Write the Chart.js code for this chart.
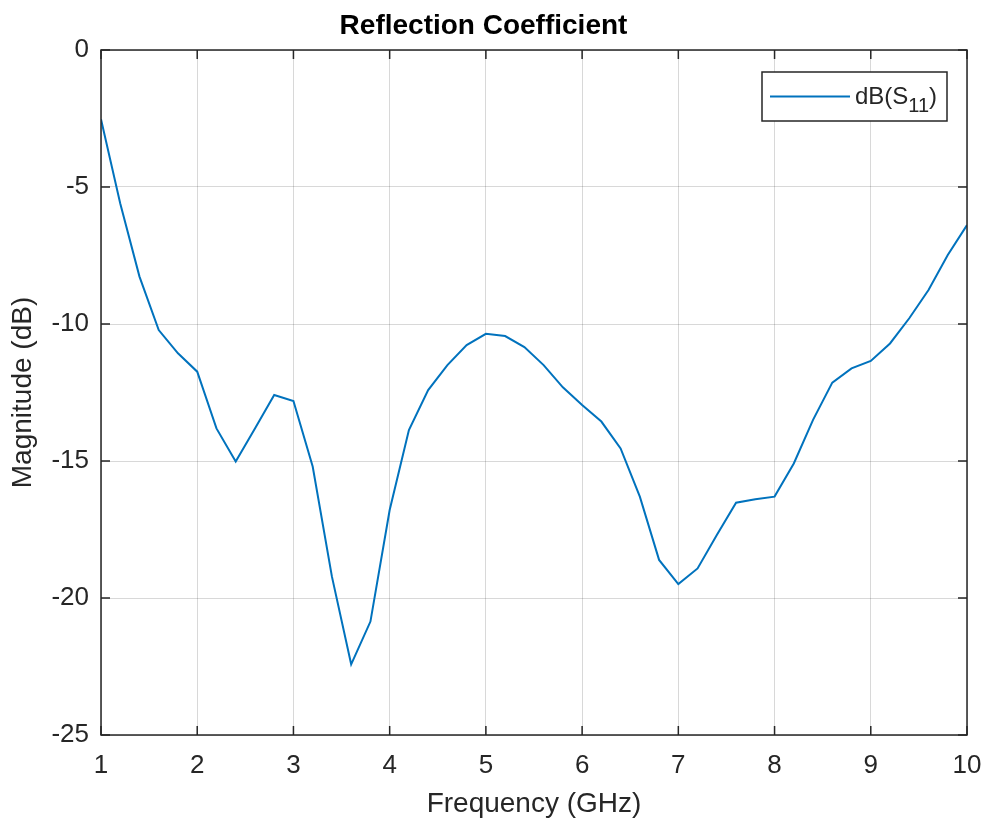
<!DOCTYPE html>
<html>
<head>
<meta charset="utf-8">
<title>Reflection Coefficient</title>
<script src="https://cdn.jsdelivr.net/npm/chart.js@4.4.1/dist/chart.umd.min.js"></script>
<style>
  html, body { margin: 0; padding: 0; background: #fff; }
  canvas { display: block; }
</style>
</head>
<body>
<canvas id="chart-s11" width="987" height="821"></canvas>
<script>
// Datos (paso de 0.2 GHz)
const freqGHz = [1.0, 1.2, 1.4, 1.6, 1.8, 2.0, 2.2, 2.4, 2.6, 2.8,
                 3.0, 3.2, 3.4, 3.6, 3.8, 4.0, 4.2, 4.4, 4.6, 4.8,
                 5.0, 5.2, 5.4, 5.6, 5.8, 6.0, 6.2, 6.4, 6.6, 6.8,
                 7.0, 7.2, 7.4, 7.6, 7.8, 8.0, 8.2, 8.4, 8.6, 8.8,
                 9.0, 9.2, 9.4, 9.6, 9.8, 10.0];
const s11dB = [-2.53, -5.60, -8.27, -10.22, -11.07, -11.74, -13.81, -15.02, -13.81, -12.59,
               -12.81, -15.20, -19.22, -22.42, -20.86, -16.79, -13.87, -12.41, -11.50, -10.77,
               -10.36, -10.44, -10.84, -11.50, -12.31, -12.96, -13.56, -14.54, -16.30, -18.61,
               -19.49, -18.92, -17.70, -16.52, -16.40, -16.30, -15.09, -13.50, -12.14, -11.62,
               -11.35, -10.71, -9.79, -8.76, -7.48, -6.39];
const xTicks = [1, 2, 3, 4, 5, 6, 7, 8, 9, 10];
const yTicks = [-25, -20, -15, -10, -5, 0];

const COLORS = {
    line:  '#0072BD',
    axis:  '#262626',
    grid:  'rgba(38,38,38,0.18)',
};
const FONT = "'Liberation Sans', Arial, Helvetica, sans-serif";

// Caja de ejes estilo MATLAB, con marcas hacia dentro en los cuatro lados
const boxPlugin = {
    id: 'matlabBox',
    afterDatasetsDraw(chart) {
        const { ctx, chartArea: a, scales: { x, y } } = chart;
        const len = 9;
        ctx.save();
        ctx.strokeStyle = COLORS.axis;
        ctx.lineWidth = 1.5;
        ctx.beginPath();
        xTicks.forEach(v => {
            const px = x.getPixelForValue(v);
            ctx.moveTo(px, a.bottom); ctx.lineTo(px, a.bottom - len);
            ctx.moveTo(px, a.top);    ctx.lineTo(px, a.top + len);
        });
        yTicks.forEach(v => {
            const py = y.getPixelForValue(v);
            ctx.moveTo(a.left, py);  ctx.lineTo(a.left + len, py);
            ctx.moveTo(a.right, py); ctx.lineTo(a.right - len, py);
        });
        ctx.stroke();
        ctx.strokeRect(a.left, a.top, a.right - a.left, a.bottom - a.top);
        ctx.restore();
    }
};

// Leyenda con subíndice: dB(S11)
const legendPlugin = {
    id: 'subLegend',
    afterDraw(chart) {
        const { ctx, chartArea: a } = chart;
        const w = 185, h = 49;
        const bx = a.right - 20 - w, by = a.top + 22;
        ctx.save();
        ctx.fillStyle = '#fff';
        ctx.fillRect(bx, by, w, h);
        ctx.strokeStyle = COLORS.axis;
        ctx.lineWidth = 1.5;
        ctx.strokeRect(bx, by, w, h);

        const midY = by + h / 2;
        ctx.strokeStyle = COLORS.line;
        ctx.lineWidth = 2;
        ctx.beginPath();
        ctx.moveTo(bx + 8, midY);
        ctx.lineTo(bx + 88, midY);
        ctx.stroke();

        ctx.fillStyle = COLORS.axis;
        ctx.textBaseline = 'alphabetic';
        ctx.font = `24px ${FONT}`;
        let tx = bx + 93;
        const base = midY + 7;
        ctx.fillText('dB(S', tx, base);
        tx += ctx.measureText('dB(S').width;
        ctx.font = `20px ${FONT}`;
        ctx.fillText('11', tx, base + 8);
        tx += ctx.measureText('11').width;
        ctx.font = `24px ${FONT}`;
        ctx.fillText(')', tx, base);
        ctx.restore();
    }
};

const ctxS11 = document.getElementById('chart-s11');
new Chart(ctxS11, {
    type: 'line',
    data: {
        datasets: [{
            label: 'dB(S11)',
            data: freqGHz.map((f, i) => ({ x: f, y: s11dB[i] })),
            borderColor: COLORS.line,
            borderWidth: 2,
            pointRadius: 0,
            tension: 0,
            fill: false,
        }]
    },
    options: {
        responsive: false,
        animation: false,
        layout: { padding: { left: 0, right: 20, top: 0, bottom: 0 } },
        plugins: {
            legend: { display: false },
            tooltip: { enabled: false },
            title: {
                display: true,
                text: 'Reflection Coefficient',
                color: '#000',
                font: { family: FONT, size: 28, weight: 'bold', lineHeight: 1.2 },
                padding: { top: 9.2, bottom: 7.2 },
            }
        },
        scales: {
            x: {
                type: 'linear',
                min: 1, max: 10,
                afterFit: s => { s.height = 86; s.paddingLeft = 0; s.paddingRight = 0; },
                afterBuildTicks: s => { s.ticks = xTicks.map(v => ({ value: v })); },
                ticks: { color: COLORS.axis, padding: 15, maxRotation: 0,
                         font: { family: FONT, size: 26 } },
                grid: { color: COLORS.grid, lineWidth: 1, drawTicks: false },
                border: { display: false },
                title: { display: true, text: 'Frequency (GHz)', color: COLORS.axis,
                         font: { family: FONT, size: 28, lineHeight: 1.2 },
                         padding: { top: 0.2, bottom: 0.2 } }
            },
            y: {
                type: 'linear',
                min: -25, max: 0,
                afterFit: s => { s.width = 101; s.paddingTop = 0; s.paddingBottom = 0; },
                afterBuildTicks: s => { s.ticks = yTicks.map(v => ({ value: v })); },
                ticks: { color: COLORS.axis, padding: 12,
                         font: { family: FONT, size: 26 } },
                grid: { color: COLORS.grid, lineWidth: 1, drawTicks: false },
                border: { display: false },
                title: { display: true, text: 'Magnitude (dB)', color: COLORS.axis,
                         font: { family: FONT, size: 28, lineHeight: 1.2 },
                         padding: { top: 6, bottom: 6 } }
            }
        }
    },
    plugins: [boxPlugin, legendPlugin]
});
</script>
</body>
</html>
